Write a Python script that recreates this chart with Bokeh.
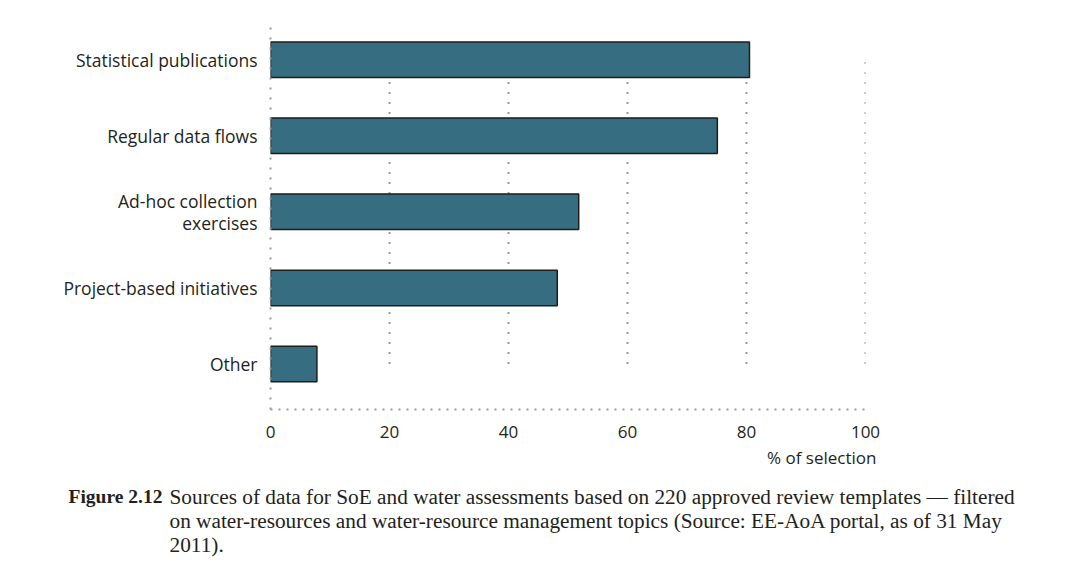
from bokeh.plotting import figure
from bokeh.layouts import column
from bokeh.models import Range1d, FixedTicker
from bokeh.core.properties import value
from bokeh.embed import file_html
from bokeh.resources import INLINE

# ---- data ----
categories = ["Statistical publications", "Regular data flows",
              "Ad-hoc collection\nexercises", "Project-based initiatives", "Other"]
values = [80.5, 75.1, 51.8, 48.2, 7.8]
x_ticks = [0, 20, 40, 60, 80, 100]
x_label = "% of selection"
caption_head = "Figure 2.12"
caption_lines = [
    "Sources of data for SoE and water assessments based on 220 approved review templates \u2014 filtered",
    "on water-resources and water-resource management topics (Source: EE-AoA portal, as of 31 May",
    "2011).",
]

n = len(categories)
ypos = [n - 1 - i for i in range(n)]  # first category on top

W = 1060
H1 = 445
H2 = 120
font = "Open Sans"
serif = "Liberation Serif"
txt_color = "#231f20"
dot_color = "#9a9a9a"

p = figure(width=W, height=H1, output_backend="svg", toolbar_location=None,
           x_range=Range1d(0, 100), y_range=Range1d(-0.598, 4.4626),
           min_border_left=270, min_border_right=195,
           min_border_top=24, min_border_bottom=36)
p.frame_align = False
p.background_fill_color = "white"
p.border_fill_color = "white"
p.outline_line_color = None
p.xgrid.visible = False
p.ygrid.visible = False

# dotted gridlines running from the first to the last category centre
grid_x = x_ticks[1:]
p.segment(x0=grid_x, x1=grid_x, y0=[min(ypos)] * len(grid_x), y1=[max(ypos)] * len(grid_x),
          line_color=dot_color, line_width=2, line_dash="2 8")

p.hbar(y=ypos, left=0, right=values, height=0.467,
       fill_color="#376d81", line_color="#1d1d1d", line_width=1.5)

xa = p.xaxis[0]
xa.ticker = FixedTicker(ticks=x_ticks)
xa.axis_line_color = dot_color
xa.axis_line_width = 2
xa.axis_line_dash = "2 6"
xa.major_tick_line_color = None
xa.minor_tick_line_color = None
xa.major_label_text_font = font
xa.major_label_text_font_size = "17px"
xa.major_label_text_color = txt_color
xa.major_label_standoff = 10

ya = p.yaxis[0]
ya.ticker = FixedTicker(ticks=ypos)
ya.major_label_overrides = {y: c for y, c in zip(ypos, categories)}
ya.axis_line_color = dot_color
ya.axis_line_width = 2
ya.axis_line_dash = "2 8"
ya.major_tick_line_color = None
ya.minor_tick_line_color = None
ya.major_label_text_font = font
ya.major_label_text_font_size = "17.5px"
ya.major_label_text_color = txt_color
ya.major_label_text_line_height = 0.9
ya.major_label_standoff = 7

# caption panel (pixel coordinates, y downwards)
c = figure(width=W, height=H2, output_backend="svg", toolbar_location=None,
           x_range=Range1d(0, W), y_range=Range1d(H2, 0),
           min_border=0, x_axis_type=None, y_axis_type=None)
c.frame_align = False
c.background_fill_color = "white"
c.border_fill_color = "white"
c.outline_line_color = None
c.xgrid.visible = False
c.ygrid.visible = False

c.text(x=[876], y=[12], text=[x_label], text_align="right", text_baseline="alphabetic",
       text_font=value(font), text_font_size="17px", text_color=txt_color)
c.text(x=[68], y=[51], text=[caption_head], text_align="left", text_baseline="alphabetic",
       text_font=value(serif), text_font_style="bold", text_font_size="19.5px", text_color=txt_color)
c.text(x=[169] * len(caption_lines), y=[51 + 24 * i for i in range(len(caption_lines))],
       text=caption_lines, text_align="left", text_baseline="alphabetic",
       text_font=value(serif), text_font_size="21.3px", text_color=txt_color)

layout = column(p, c, spacing=0)
open("out.html", "w").write(file_html(layout, INLINE))
